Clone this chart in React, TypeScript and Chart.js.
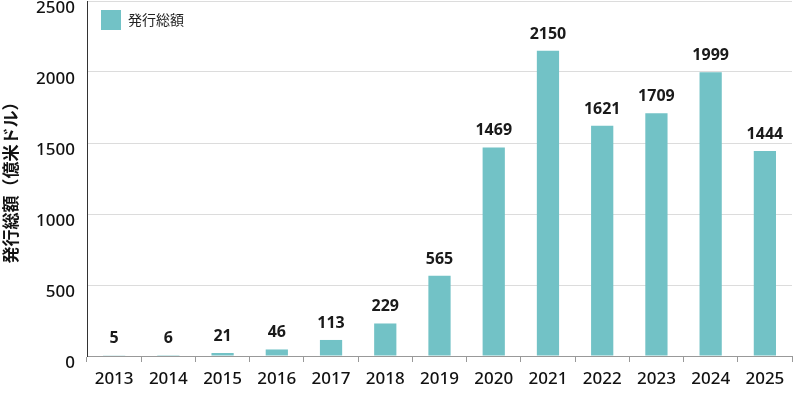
import React, { useEffect, useRef } from "react";
import { Chart, registerables } from "chart.js";

Chart.register(...registerables);

const years = ["2013", "2014", "2015", "2016", "2017", "2018", "2019", "2020", "2021", "2022", "2023", "2024", "2025"];
const issuance = [5, 6, 21, 46, 113, 229, 565, 1469, 2150, 1621, 1709, 1999, 1444];
const yTicks = [0, 500, 1000, 1500, 2000, 2500];
const seriesLabel = "発行総額";
const yTitle = "発行総額（億米ドル）";

const FONT = "'Noto Sans', 'Noto Sans CJK JP', sans-serif";
const CJK = "'Noto Sans CJK JP', sans-serif";
const BAR = "#72c2c6";

const valueLabels = {
  id: "valueLabels",
  afterDatasetsDraw(chart: any) {
    const ctx = chart.ctx;
    const meta = chart.getDatasetMeta(0);
    ctx.save();
    ctx.font = `bold 16px ${FONT}`;
    ctx.fillStyle = "#1a1a1a";
    ctx.textAlign = "center";
    ctx.textBaseline = "alphabetic";
    meta.data.forEach((el: any, i: number) => {
      ctx.fillText(String(chart.data.datasets[0].data[i]), el.x, el.y - 12);
    });
    ctx.restore();
  },
};

const innerLegend = {
  id: "innerLegend",
  afterDraw(chart: any) {
    const ctx = chart.ctx;
    const x = chart.chartArea.left + 14;
    const y = 10;
    ctx.save();
    ctx.fillStyle = chart.data.datasets[0].backgroundColor;
    ctx.fillRect(x, y, 20, 20);
    ctx.font = `14px ${CJK}`;
    ctx.fillStyle = "#222";
    ctx.textAlign = "left";
    ctx.textBaseline = "middle";
    ctx.fillText(chart.data.datasets[0].label, x + 27, y + 10);
    ctx.restore();
  },
};

export default function App() {
  const ref = useRef<HTMLCanvasElement | null>(null);
  useEffect(() => {
    document.body.style.margin = "0";
    const chart = new Chart(ref.current as HTMLCanvasElement, {
      type: "bar",
      data: {
        labels: years,
        datasets: [
          {
            label: seriesLabel,
            data: issuance,
            backgroundColor: BAR,
            categoryPercentage: 1,
            barPercentage: 0.41,
          },
        ],
      },
      options: {
        animation: false,
        responsive: true,
        maintainAspectRatio: false,
        layout: { padding: { left: 0, right: 8, top: 1, bottom: 0 } },
        plugins: {
          legend: { display: false },
          tooltip: { enabled: false },
        },
        scales: {
          x: {
            offset: true,
            afterFit: (scale: any) => {
              scale.height = 38;
            },
            grid: {
              display: true,
              offset: true,
              drawOnChartArea: false,
              drawTicks: true,
              tickLength: 6,
              color: "#999",
            },
            border: { display: true, color: "#999", width: 1 },
            ticks: {
              color: "#111",
              font: { family: FONT, size: 17, weight: 500 },
              padding: 7,
              maxRotation: 0,
            },
          },
          y: {
            min: 0,
            max: 2500,
            afterBuildTicks: (scale: any) => {
              scale.ticks = yTicks.map((v) => ({ value: v }));
            },
            afterFit: (scale: any) => {
              scale.width = 87;
              scale.paddingTop = 0;
              scale.paddingBottom = 0;
            },
            grid: {
              color: (c: any) => (c.tick && c.tick.value === 0 ? "rgba(0,0,0,0)" : "#dcdcdc"),
              drawTicks: false,
            },
            border: { display: true, color: "#333", width: 1 },
            ticks: {
              color: "#111",
              font: { family: FONT, size: 17, weight: 500 },
              padding: 12,
              labelOffset: 7,
              callback: (v: any) => String(v),
            },
            title: {
              display: true,
              text: yTitle,
              color: "#111",
              font: { family: CJK, size: 17, weight: "bold" },
              padding: { top: 0, bottom: 0 },
            },
          },
        },
      },
      plugins: [valueLabels, innerLegend],
    });
    return () => chart.destroy();
  }, []);
  return (
    <div style={{ position: "relative", width: 800, height: 394 }}>
      <canvas ref={ref} />
    </div>
  );
}
